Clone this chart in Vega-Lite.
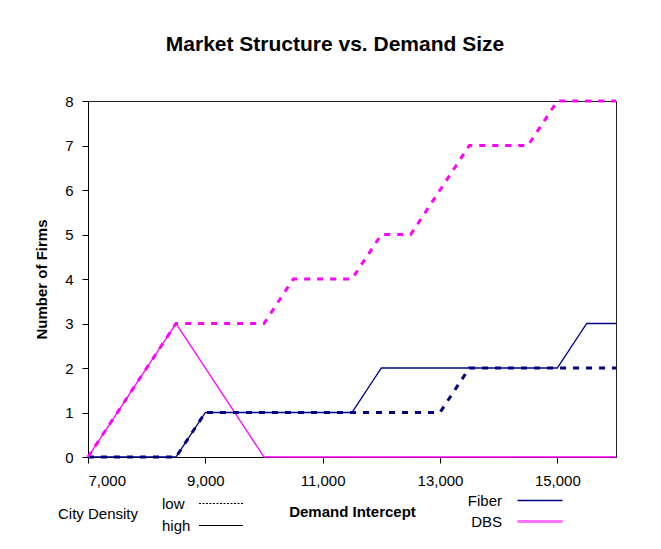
{
  "$schema": "https://vega.github.io/schema/vega-lite/v6.json",
  "autosize": {"type": "none"},
  "width": 528,
  "height": 356,
  "padding": {"left": 88, "top": 101, "right": 45, "bottom": 92},
  "background": "white",
  "title": {
    "text": "Market Structure vs. Demand Size",
    "fontSize": 21,
    "fontWeight": "bold",
    "font": "Liberation Sans",
    "color": "#000",
    "anchor": "middle",
    "baseline": "alphabetic",
    "offset": 22,
    "dx": -17
  },
  "data": {
    "values": [
      {"x": 7000, "n": 0, "tech": "Fiber", "density": "high"},
      {"x": 7500, "n": 0, "tech": "Fiber", "density": "high"},
      {"x": 8000, "n": 0, "tech": "Fiber", "density": "high"},
      {"x": 8500, "n": 0, "tech": "Fiber", "density": "high"},
      {"x": 9000, "n": 1, "tech": "Fiber", "density": "high"},
      {"x": 9500, "n": 1, "tech": "Fiber", "density": "high"},
      {"x": 10000, "n": 1, "tech": "Fiber", "density": "high"},
      {"x": 10500, "n": 1, "tech": "Fiber", "density": "high"},
      {"x": 11000, "n": 1, "tech": "Fiber", "density": "high"},
      {"x": 11500, "n": 1, "tech": "Fiber", "density": "high"},
      {"x": 12000, "n": 2, "tech": "Fiber", "density": "high"},
      {"x": 12500, "n": 2, "tech": "Fiber", "density": "high"},
      {"x": 13000, "n": 2, "tech": "Fiber", "density": "high"},
      {"x": 13500, "n": 2, "tech": "Fiber", "density": "high"},
      {"x": 14000, "n": 2, "tech": "Fiber", "density": "high"},
      {"x": 14500, "n": 2, "tech": "Fiber", "density": "high"},
      {"x": 15000, "n": 2, "tech": "Fiber", "density": "high"},
      {"x": 15500, "n": 3, "tech": "Fiber", "density": "high"},
      {"x": 16000, "n": 3, "tech": "Fiber", "density": "high"},

      {"x": 7000, "n": 0, "tech": "Fiber", "density": "low"},
      {"x": 7500, "n": 0, "tech": "Fiber", "density": "low"},
      {"x": 8000, "n": 0, "tech": "Fiber", "density": "low"},
      {"x": 8500, "n": 0, "tech": "Fiber", "density": "low"},
      {"x": 9000, "n": 1, "tech": "Fiber", "density": "low"},
      {"x": 9500, "n": 1, "tech": "Fiber", "density": "low"},
      {"x": 10000, "n": 1, "tech": "Fiber", "density": "low"},
      {"x": 10500, "n": 1, "tech": "Fiber", "density": "low"},
      {"x": 11000, "n": 1, "tech": "Fiber", "density": "low"},
      {"x": 11500, "n": 1, "tech": "Fiber", "density": "low"},
      {"x": 12000, "n": 1, "tech": "Fiber", "density": "low"},
      {"x": 12500, "n": 1, "tech": "Fiber", "density": "low"},
      {"x": 13000, "n": 1, "tech": "Fiber", "density": "low"},
      {"x": 13500, "n": 2, "tech": "Fiber", "density": "low"},
      {"x": 14000, "n": 2, "tech": "Fiber", "density": "low"},
      {"x": 14500, "n": 2, "tech": "Fiber", "density": "low"},
      {"x": 15000, "n": 2, "tech": "Fiber", "density": "low"},
      {"x": 15500, "n": 2, "tech": "Fiber", "density": "low"},
      {"x": 16000, "n": 2, "tech": "Fiber", "density": "low"},

      {"x": 7000, "n": 0, "tech": "DBS", "density": "high"},
      {"x": 7500, "n": 1, "tech": "DBS", "density": "high"},
      {"x": 8000, "n": 2, "tech": "DBS", "density": "high"},
      {"x": 8500, "n": 3, "tech": "DBS", "density": "high"},
      {"x": 9000, "n": 2, "tech": "DBS", "density": "high"},
      {"x": 9500, "n": 1, "tech": "DBS", "density": "high"},
      {"x": 10000, "n": 0, "tech": "DBS", "density": "high"},
      {"x": 10500, "n": 0, "tech": "DBS", "density": "high"},
      {"x": 11000, "n": 0, "tech": "DBS", "density": "high"},
      {"x": 11500, "n": 0, "tech": "DBS", "density": "high"},
      {"x": 12000, "n": 0, "tech": "DBS", "density": "high"},
      {"x": 12500, "n": 0, "tech": "DBS", "density": "high"},
      {"x": 13000, "n": 0, "tech": "DBS", "density": "high"},
      {"x": 13500, "n": 0, "tech": "DBS", "density": "high"},
      {"x": 14000, "n": 0, "tech": "DBS", "density": "high"},
      {"x": 14500, "n": 0, "tech": "DBS", "density": "high"},
      {"x": 15000, "n": 0, "tech": "DBS", "density": "high"},
      {"x": 15500, "n": 0, "tech": "DBS", "density": "high"},
      {"x": 16000, "n": 0, "tech": "DBS", "density": "high"},

      {"x": 7000, "n": 0, "tech": "DBS", "density": "low"},
      {"x": 7500, "n": 1, "tech": "DBS", "density": "low"},
      {"x": 8000, "n": 2, "tech": "DBS", "density": "low"},
      {"x": 8500, "n": 3, "tech": "DBS", "density": "low"},
      {"x": 9000, "n": 3, "tech": "DBS", "density": "low"},
      {"x": 9500, "n": 3, "tech": "DBS", "density": "low"},
      {"x": 10000, "n": 3, "tech": "DBS", "density": "low"},
      {"x": 10500, "n": 4, "tech": "DBS", "density": "low"},
      {"x": 11000, "n": 4, "tech": "DBS", "density": "low"},
      {"x": 11500, "n": 4, "tech": "DBS", "density": "low"},
      {"x": 12000, "n": 5, "tech": "DBS", "density": "low"},
      {"x": 12500, "n": 5, "tech": "DBS", "density": "low"},
      {"x": 13000, "n": 6, "tech": "DBS", "density": "low"},
      {"x": 13500, "n": 7, "tech": "DBS", "density": "low"},
      {"x": 14000, "n": 7, "tech": "DBS", "density": "low"},
      {"x": 14500, "n": 7, "tech": "DBS", "density": "low"},
      {"x": 15000, "n": 8, "tech": "DBS", "density": "low"},
      {"x": 15500, "n": 8, "tech": "DBS", "density": "low"},
      {"x": 16000, "n": 8, "tech": "DBS", "density": "low"}
    ]
  },
  "encoding": {
    "x": {
      "field": "x",
      "type": "quantitative",
      "title": "Demand Intercept",
      "scale": {"domain": [7000, 16000], "nice": false, "zero": false},
      "axis": {
        "values": [7000, 9000, 11000, 13000, 15000],
        "format": ",d",
        "grid": false,
        "tickSize": 6,
        "labelPadding": 10,
        "titlePadding": 16
      }
    },
    "y": {
      "field": "n",
      "type": "quantitative",
      "title": "Number of Firms",
      "scale": {"domain": [0, 8], "nice": false},
      "axis": {
        "values": [0, 1, 2, 3, 4, 5, 6, 7, 8],
        "grid": false,
        "tickSize": 6,
        "labelPadding": 9,
        "titlePadding": 15
      }
    },
    "color": {
      "field": "tech",
      "type": "nominal",
      "scale": {"domain": ["Fiber", "DBS"], "range": ["#000080", "#FF00FF"]},
      "legend": {
        "title": null,
        "orient": "none",
        "legendX": 365,
        "legendY": 392,
        "symbolType": "stroke",
        "symbolSize": 2025,
        "labelAlign": "right",
        "labelOffset": -45.5,
        "symbolOffset": 79.5,
        "rowPadding": 5,
        "encode": {
          "symbols": {
            "update": {
              "strokeWidth": {"signal": "datum.value === 'DBS' ? 3 : 1.5"},
              "opacity": {"signal": "datum.value === 'DBS' ? 0.55 : 1"}
            }
          }
        }
      }
    }
  },
  "layer": [
    {
      "transform": [{"filter": "datum.density === 'high'"}],
      "mark": {"type": "line", "strokeWidth": 1.3, "clip": false},
      "encoding": {
        "strokeDash": {
          "field": "density",
          "type": "nominal",
          "scale": {"domain": ["low", "high"], "range": [[2, 1.5], [1, 0]]},
          "legend": {
            "title": "City Density",
            "titleOrient": "left",
            "titleFontWeight": "normal",
            "titleFontSize": 15,
            "titleAnchor": "middle",
            "titleBaseline": "middle",
            "titlePadding": 10,
            "orient": "none",
            "legendX": -30,
            "legendY": 394,
            "symbolType": "M-2.933,0H2.933",
            "symbolSize": 225,
            "symbolStrokeColor": "#000",
            "symbolStrokeWidth": 1.2,
            "labelAlign": "left",
            "labelOffset": -67.5,
            "symbolOffset": 63.5,
            "rowPadding": 5,
            "encode": {
              "symbols": {
                "update": {
                  "stroke": {"value": "#000"},
                  "strokeWidth": {"value": 1.2},
                  "opacity": {"value": 1}
                }
              }
            }
          }
        }
      }
    },
    {
      "transform": [{"filter": "datum.density === 'low'"}],
      "mark": {"type": "line", "strokeWidth": 3, "strokeDash": [6, 7], "clip": false}
    }
  ],
  "config": {
    "font": "Liberation Sans",
    "view": {"stroke": "#222", "strokeWidth": 1},
    "axis": {
      "domainColor": "#000",
      "tickColor": "#000",
      "labelColor": "#000",
      "titleColor": "#000",
      "labelFontSize": 15,
      "titleFontSize": 15,
      "titleFontWeight": "bold",
      "labelFont": "Liberation Sans",
      "titleFont": "Liberation Sans"
    },
    "legend": {
      "padding": 0,
      "labelFontSize": 15,
      "labelColor": "#000",
      "titleColor": "#000",
      "labelFont": "Liberation Sans",
      "titleFont": "Liberation Sans"
    }
  }
}
